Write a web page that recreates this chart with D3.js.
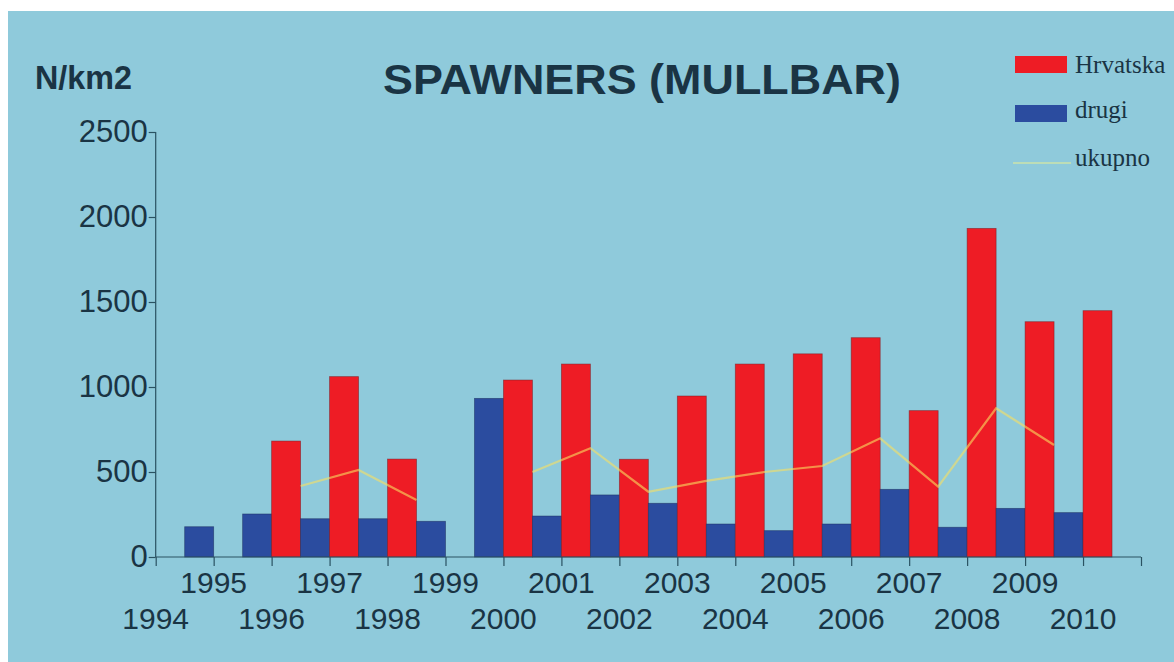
<!DOCTYPE html>
<html>
<head>
<meta charset="utf-8">
<script src="https://cdn.jsdelivr.net/npm/d3@7"></script>
<style>
  html, body { margin: 0; padding: 0; background: #ffffff; }
  svg { display: block; }
</style>
</head>
<body>
<svg id="chart" width="1174" height="662"></svg>
<script>
// ---- data ----
const years = ["1994","1995","1996","1997","1998","1999","2000","2001","2002","2003","2004","2005","2006","2007","2008","2009","2010"];
const hrvatska = [null, null, 682, 1061, 576, null, 1041, 1135, 575, 947, 1135, 1195, 1290, 861, 1933, 1384, 1449];
const drugi    = [178, 253, 225, 225, 210, 933, 241, 365, 316, 194, 155, 194, 398, 175, 286, 261, null];
const ukupno   = [null, null, 418, 512, 335, null, 500, 640, 384, 448, 500, 535, 698, 414, 875, 659, null];
const yTicks = [0, 500, 1000, 1500, 2000, 2500];
const seriesNames = ["Hrvatska", "drugi", "ukupno"];
const titleText = "SPAWNERS (MULLBAR)";
const unitText = "N/km2";

// ---- styles ----
const BG = "#8fcadb";
const RED = "#ee1c25";
const BLUE = "#2b4c9f";
const LINE = "#f8e060";
const TEXT = "#1a3444";
const AXIS = "#2a5262";

const svg = d3.select("#chart");
svg.append("rect").attr("x", 8).attr("y", 11).attr("width", 1166).attr("height", 651).attr("fill", BG);

const pL = 155.7, pR = 1141, pT = 132, pB = 557;

const x = d3.scaleBand().domain(years).range([pL, pR]).padding(0);
const x1 = d3.scaleBand().domain(["Hrvatska", "drugi"]).range([0, x.bandwidth()]).padding(0);
const y = d3.scaleLinear().domain([0, 2500]).range([pB, pT]);

// bars
const rows = years.map((yr, i) => ({ year: yr, vals: [
  { key: "Hrvatska", v: hrvatska[i], c: RED, s: "#7a1a22" },
  { key: "drugi", v: drugi[i], c: BLUE, s: "#1a2d5e" }
]}));

const g = svg.append("g");
g.selectAll("g.cat").data(rows).join("g")
  .attr("class", "cat")
  .attr("transform", d => `translate(${x(d.year)},0)`)
  .selectAll("rect").data(d => d.vals.filter(v => v.v != null)).join("rect")
  .attr("x", d => x1(d.key))
  .attr("width", x1.bandwidth())
  .attr("y", d => y(d.v))
  .attr("height", d => y(0) - y(d.v))
  .attr("fill", d => d.c)
  .attr("stroke", d => d.s)
  .attr("stroke-width", 0.8)
  .attr("stroke-opacity", 0.6);

// line (ukupno) at category centres
const lineGen = d3.line()
  .defined(d => d.v != null)
  .x(d => x(d.year) + x.bandwidth() / 2)
  .y(d => y(d.v));
g.append("path")
  .datum(years.map((yr, i) => ({ year: yr, v: ukupno[i] })))
  .attr("d", lineGen)
  .attr("fill", "none")
  .attr("stroke", LINE)
  .attr("stroke-width", 2.2)
  .attr("stroke-opacity", 0.6);

// y axis
const yAxis = svg.append("g")
  .attr("transform", `translate(${pL},0)`)
  .call(d3.axisLeft(y).tickValues(yTicks).tickSize(7).tickPadding(1).tickFormat(d3.format("d")));
yAxis.selectAll("path, line").attr("stroke", AXIS).attr("stroke-width", 1.2);
yAxis.select(".domain").attr("d", `M0,${pT}V${pB}`);
yAxis.selectAll("text")
  .attr("fill", TEXT)
  .style("font-family", "'Liberation Sans', Arial, sans-serif")
  .style("font-size", "31px");

// x axis: ticks at band boundaries
const xb = d3.scaleLinear().domain([0, years.length]).range([pL, pR]);
const xAxis = svg.append("g")
  .attr("transform", `translate(0,${pB})`)
  .call(d3.axisBottom(xb).tickValues(d3.range(0, years.length + 1)).tickSize(9).tickFormat(""));
xAxis.selectAll("path, line").attr("stroke", AXIS).attr("stroke-width", 1.2);
xAxis.select(".domain").attr("d", `M${pL},0H${pR}`);

// staggered year labels at band starts
svg.append("g").selectAll("text").data(years).join("text")
  .attr("x", d => x(d))
  .attr("y", (d, i) => i % 2 === 0 ? 629 : 593)
  .attr("text-anchor", "middle")
  .attr("fill", TEXT)
  .style("font-family", "'Liberation Sans', Arial, sans-serif")
  .style("font-size", "30px")
  .text(d => d);

// title and unit
svg.append("text")
  .attr("x", 642).attr("y", 94)
  .attr("text-anchor", "middle")
  .attr("fill", TEXT)
  .attr("textLength", 518).attr("lengthAdjust", "spacingAndGlyphs")
  .style("font-family", "'Liberation Sans', Arial, sans-serif")
  .style("font-weight", "bold")
  .style("font-size", "43px")
  .text(titleText);

svg.append("text")
  .attr("x", 35).attr("y", 89)
  .attr("fill", TEXT)
  .attr("textLength", 97).attr("lengthAdjust", "spacingAndGlyphs")
  .style("font-family", "'Liberation Sans', Arial, sans-serif")
  .style("font-weight", "bold")
  .style("font-size", "33px")
  .text(unitText);

// legend
const legend = svg.append("g");
const legY = [64.5, 113.5, 163];
legend.append("rect").attr("x", 1015).attr("y", 56).attr("width", 52).attr("height", 17).attr("fill", RED);
legend.append("rect").attr("x", 1015).attr("y", 105).attr("width", 52).attr("height", 17).attr("fill", BLUE);
legend.append("line").attr("x1", 1013).attr("x2", 1071).attr("y1", legY[2]).attr("y2", legY[2])
  .attr("stroke", "#cfe6a8").attr("stroke-width", 2).attr("stroke-opacity", 0.7);
legend.selectAll("text").data(seriesNames).join("text")
  .attr("x", 1075)
  .attr("y", (d, i) => [73, 118, 166][i])
  .attr("fill", TEXT)
  .style("font-family", "'Liberation Serif', 'Times New Roman', serif")
  .style("font-size", "25px")
  .text(d => d);
</script>
</body>
</html>
